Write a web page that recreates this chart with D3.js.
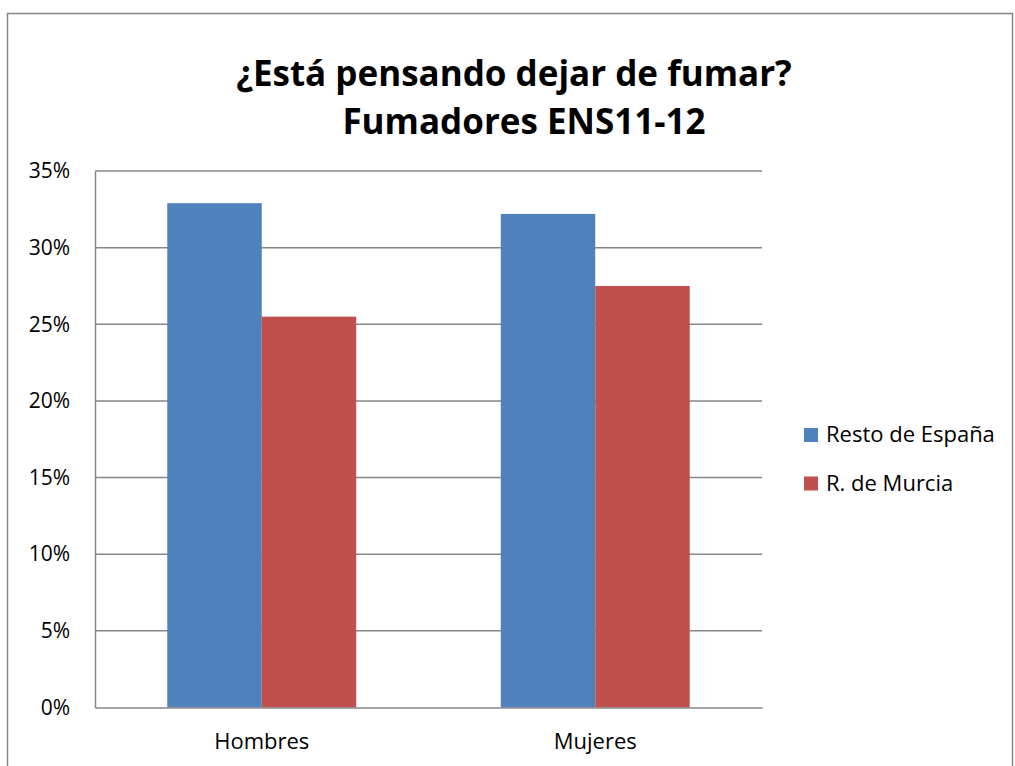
<!DOCTYPE html>
<html>
<head>
<meta charset="utf-8">
<script src="https://cdn.jsdelivr.net/npm/d3@7"></script>
<style>
  body { margin: 0; background: #fff; }
  text { font-family: "Open Sans", "Noto Sans", sans-serif; fill: #000; }
</style>
</head>
<body>
<svg id="chart"></svg>
<script>
var categories = ["Hombres", "Mujeres"];
var series = ["Resto de España", "R. de Murcia"];
var restoEspana = [0.329, 0.322];
var rMurcia = [0.255, 0.275];
var yTicks = [0, 0.05, 0.10, 0.15, 0.20, 0.25, 0.30, 0.35];
var titleLines = ["¿Está pensando dejar de fumar?", "Fumadores ENS11-12"];
var colors = ["#4F81BD", "#C0504D"];

var width = 1015, height = 766;
var svg = d3.select("#chart").attr("width", width).attr("height", height);

var margin = {left: 95, right: 762, top: 171, bottom: 707.5};

// outer chart border
svg.append("rect")
    .attr("x", 7.5).attr("y", 13.5)
    .attr("width", 1005).attr("height", 800)
    .attr("fill", "none")
    .attr("stroke", "#868686")
    .attr("stroke-width", 1.5);

var x0 = d3.scaleBand().domain(categories).range([margin.left, margin.right]).padding(0);
var x1 = d3.scaleBand().domain(series).range([0, x0.bandwidth()]).paddingInner(0).paddingOuter(0.765);
var y = d3.scaleLinear().domain([0, 0.35]).range([margin.bottom, margin.top]);

// gridlines
svg.append("g")
    .selectAll("line")
    .data(yTicks.slice(1))
    .enter().append("line")
    .attr("x1", margin.left).attr("x2", margin.right)
    .attr("y1", function (d) { return y(d); })
    .attr("y2", function (d) { return y(d); })
    .attr("stroke", "#868686")
    .attr("stroke-width", 1.5);

// bars
var rows = categories.map(function (c, i) {
    return {cat: c, vals: [restoEspana[i], rMurcia[i]]};
});
var groups = svg.append("g")
    .selectAll("g")
    .data(rows)
    .enter().append("g")
    .attr("transform", function (d) { return "translate(" + x0(d.cat) + ",0)"; });
groups.selectAll("rect")
    .data(function (d) {
        return d.vals.map(function (v, j) { return {s: series[j], v: v, j: j}; });
    })
    .enter().append("rect")
    .attr("x", function (d) { return x1(d.s); })
    .attr("width", x1.bandwidth())
    .attr("y", function (d) { return y(d.v); })
    .attr("height", function (d) { return y(0) - y(d.v); })
    .attr("fill", function (d) { return colors[d.j]; });

// y axis
var yAxis = svg.append("g")
    .attr("transform", "translate(" + margin.left + ",0)")
    .call(d3.axisLeft(y).tickValues(yTicks).tickFormat(d3.format(".0%")).tickSize(0).tickPadding(25));
yAxis.select(".domain").attr("stroke", "#868686").attr("stroke-width", 1.5);
yAxis.selectAll("text").style("font-size", "21px").attr("fill", "#000")
    .attr("font-family", "Open Sans");

// x axis
var xAxis = svg.append("g")
    .attr("transform", "translate(0," + margin.bottom + ")")
    .call(d3.axisBottom(x0).tickSize(0).tickPadding(26));
xAxis.select(".domain").attr("stroke", "#868686").attr("stroke-width", 1.5);
xAxis.selectAll("text").style("font-size", "22px").attr("fill", "#000")
    .attr("font-family", "Open Sans");

// title
svg.append("g")
    .selectAll("text")
    .data(titleLines)
    .enter().append("text")
    .attr("x", function (d, i) { return i === 0 ? 514 : 524; })
    .attr("y", function (d, i) { return 86 + i * 48; })
    .attr("text-anchor", "middle")
    .style("font-size", "35px")
    .style("font-weight", "bold")
    .text(function (d) { return d; });

// legend
var legend = svg.append("g")
    .selectAll("g")
    .data(series)
    .enter().append("g")
    .attr("transform", function (d, i) { return "translate(804," + (428 + i * 48.5) + ")"; });
legend.append("rect")
    .attr("width", 14).attr("height", 14)
    .attr("fill", function (d, i) { return colors[i]; });
legend.append("text")
    .attr("x", 22).attr("y", 14)
    .style("font-size", "22px")
    .text(function (d) { return d; });
</script>
</body>
</html>
